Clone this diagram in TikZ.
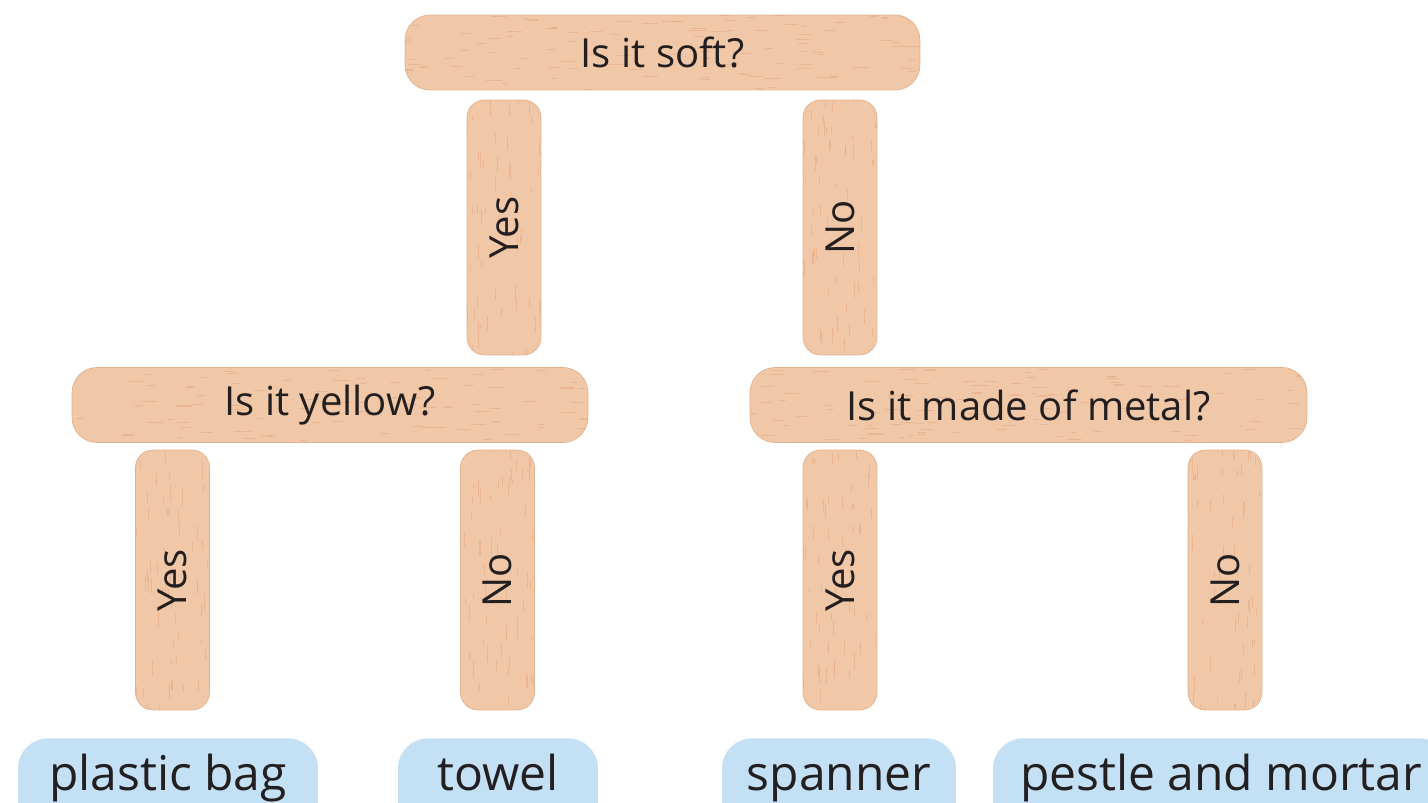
\documentclass[tikz,border=0pt]{standalone}
\usepackage{fontspec}
\setmainfont{Open Sans}
\definecolor{wood}{HTML}{F0C8A8}
\definecolor{woodedge}{HTML}{E2B18C}
\definecolor{grain}{HTML}{E09C70}
\definecolor{labelblue}{HTML}{C3E0F5}
\definecolor{ink}{HTML}{231F20}
\newcommand\woodgrain[4]{%
  \foreach \k in {1,...,#3}{%
    \pgfmathsetmacro\gx{(2*rnd-1)*#1}%
    \pgfmathsetmacro\gy{(2*rnd-1)*#2}%
    \pgfmathsetmacro\gl{4+rnd*12}%
    \draw[grain, line width=0.6pt, opacity=0.4, line cap=round]
      ([shift={(\gx,\gy)}]path picture bounding box.center) -- ++(#4:\gl);
  }}
\tikzset{
  woodbase/.style={fill=wood, draw=woodedge, line width=0.4pt, inner sep=0pt,
    text=ink, font=\fontsize{22.8}{26}\selectfont},
  hstick/.style={woodbase, rounded corners=0.5cm, minimum height=1.5cm,
    path picture={\woodgrain{290}{40}{120}{0}}},
  vstick/.style={woodbase, rotate=90, rounded corners=0.35cm, minimum height=1.48cm,
    path picture={\woodgrain{140}{40}{60}{0}}},
  answer/.style={fill=labelblue, rounded corners=0.6cm, anchor=north, text=ink,
    font=\fontsize{27.3}{30}\selectfont, text height=0.76cm, text depth=1.2cm,
    inner xsep=0pt, inner ysep=0.28cm}
}
\begin{document}
\begin{tikzpicture}[x=0.02cm, y=-0.02cm]
\pgfmathsetseed{11}
\useasboundingbox (0,0) rectangle (1428,802);
\clip (0,0) rectangle (1428,802);

% question sticks
\node[hstick, minimum width=10.3cm] (soft) at (662.5,52.5) {Is it soft?};
\node[hstick, minimum width=10.32cm] (yellow) at (330,405) {Is it yellow?};
\node[hstick, minimum width=11.14cm] (metal) at (1028.5,405) {Is it made of metal?};

% answer sticks, top level
\node[vstick, minimum width=5.1cm] (softyes) at (504,227.5) {Yes};
\node[vstick, minimum width=5.1cm] (softno) at (840,227.5) {No};

% answer sticks, lower level
\node[vstick, minimum width=5.2cm] (yellowyes) at (172.5,580) {Yes};
\node[vstick, minimum width=5.2cm] (yellowno) at (497.5,580) {No};
\node[vstick, minimum width=5.2cm] (metalyes) at (840,580) {Yes};
\node[vstick, minimum width=5.2cm] (metalno) at (1225,580) {No};

% results
\node[answer, minimum width=6cm] (bag) at (168,738) {plastic bag};
\node[answer, minimum width=4cm] (towel) at (498,738) {towel};
\node[answer, minimum width=4.68cm] (spanner) at (839,738) {spanner};
\node[answer, minimum width=9.12cm] (pestle) at (1221,738) {pestle and mortar};
\end{tikzpicture}
\end{document}
